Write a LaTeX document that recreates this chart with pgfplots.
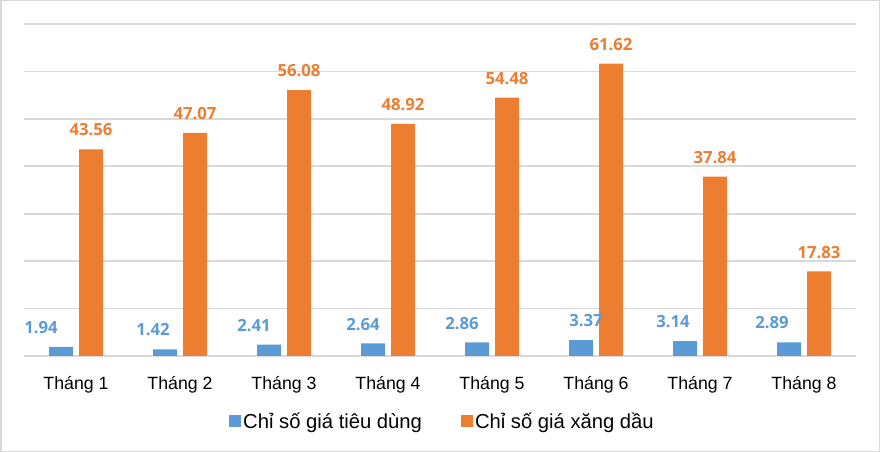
\documentclass[border=0pt]{standalone}
\usepackage{fontspec}
\setmainfont{Liberation Sans}
\newfontfamily\lblfont{Open Sans}
\usepackage{pgfplots}
\pgfplotsset{compat=1.18}
\usepackage{pgfplotstable}
\definecolor{cpiblue}{HTML}{5B9BD5}
\definecolor{fuelorange}{HTML}{ED7D31}
\definecolor{gridgray}{HTML}{D9D9D9}

% month, CPI, label shift of the CPI value, fuel price index
\pgfplotstableread{
x cpi dx fuel
1 1.94 -20 43.56
2 1.42 -12 47.07
3 2.41 -15 56.08
4 2.64 -10 48.92
5 2.86 -15 54.48
6 3.37 5 61.62
7 3.14 -12 37.84
8 2.89 -17 17.83
}\datatable

\begin{document}
\begin{tikzpicture}
\useasboundingbox (0,0) rectangle (880bp,452bp);
\draw[gridgray, line width=1.5bp] (0.75bp,0.75bp) rectangle (879.25bp,451.25bp);
\begin{axis}[
    at={(24bp,96bp)}, anchor=south west,
    scale only axis, width=832bp, height=332bp,
    ybar=6bp, bar width=24bp,
    xmin=0.5, xmax=8.5, ymin=0, ymax=70,
    xtick={1,...,8},
    xticklabels={Tháng 1,Tháng 2,Tháng 3,Tháng 4,Tháng 5,Tháng 6,Tháng 7,Tháng 8},
    ytick={0,10,...,70}, yticklabels={},
    ymajorgrids, grid style={gridgray, line width=1.6bp},
    axis line style={draw=none}, tick style={draw=none},
    xticklabel style={font=\fontsize{17.8}{20}\selectfont, text=black,
        anchor=north, inner sep=0pt, yshift=-16bp},
    /pgf/number format/assume math mode=true,
    /pgf/number format/fixed,
    /pgf/number format/fixed zerofill,
    /pgf/number format/precision=2,
    every node near coord/.append style={font=\lblfont\bfseries\fontsize{16.8}{18}\selectfont,
        inner sep=0pt, anchor=south, yshift=13bp},
    legend columns=2,
    legend image code/.code={\fill[#1] (0bp,-6bp) rectangle (12bp,6bp);},
    legend style={at={(0.503,-0.196)}, anchor=center, draw=none, fill=none,
        inner sep=0pt, nodes={inner sep=2bp},
        font=\fontsize{20.3}{24}\selectfont,
        /tikz/every even column/.append style={column sep=37bp}},
]
\addplot[fill=cpiblue, draw=none, nodes near coords,
    visualization depends on={\thisrow{dx} \as \dx},
    every node near coord/.append style={xshift={\dx bp}, text=cpiblue}]
    table[x=x, y=cpi] {\datatable};
\addplot[fill=fuelorange, draw=none, nodes near coords,
    every node near coord/.append style={text=fuelorange}]
    table[x=x, y=fuel] {\datatable};
\legend{Chỉ số giá tiêu dùng, Chỉ số giá xăng dầu}
\end{axis}
\end{tikzpicture}
\end{document}
